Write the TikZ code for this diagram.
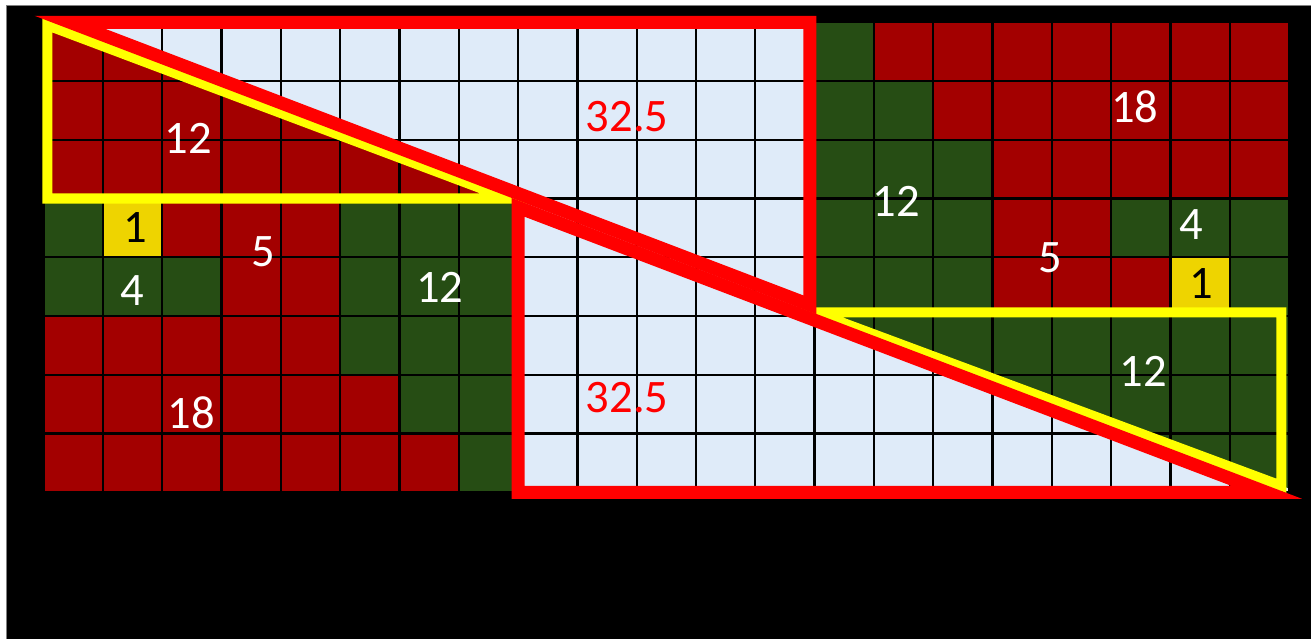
\documentclass[tikz,border=0pt]{standalone}
\usepackage{fontspec}
\setmainfont{Carlito}
\definecolor{cellred}{RGB}{163,0,0}
\definecolor{cellgreen}{RGB}{38,77,20}
\definecolor{celllight}{RGB}{223,235,249}
\definecolor{cellyellow}{RGB}{238,212,0}
\definecolor{edgered}{RGB}{255,0,0}
\definecolor{edgeyellow}{RGB}{255,255,0}
\tikzset{
	redtri/.style={draw=edgered, line width=7.4pt},
	yellowtri/.style={draw=edgeyellow, line width=5.7pt},
	gridline/.style={line width=1.3pt},
	num/.style={text=white, inner sep=0pt},
	numdark/.style={text=black, inner sep=0pt},
	numred/.style={text=edgered, inner sep=0pt}
}
\begin{document}
\begin{tikzpicture}[x=1.186cm, y=1.175cm, font=\fontsize{26.5}{30}\selectfont, line join=miter]
	\useasboundingbox (-0.737,-2.498) rectangle (21.371,8.379);
	\fill (-0.636,-2.498) rectangle (21.371,8.294);
	\draw[gray, line width=0.4pt] (-0.636,-2.498) -- (-0.636,8.294) -- (21.371,8.294);
	\fill[celllight] (0,0) rectangle (21,8);
	\foreach \rw/\ca/\cb in {4/2/4, 3/3/4, 2/0/4, 1/0/5, 0/0/6, 7/14/20, 6/15/20, 5/16/20, 4/16/17, 3/16/18}
		\fill[cellred] (\ca,\rw) rectangle (\cb+1,\rw+1);
	\foreach \rw/\ca/\cb in {4/0/0, 4/5/7, 3/0/2, 3/5/7, 2/5/7, 1/6/7, 0/7/7, 7/13/13, 6/13/14, 5/13/15, 4/13/15, 4/18/20, 3/13/15, 3/20/20}
		\fill[cellgreen] (\ca,\rw) rectangle (\cb+1,\rw+1);
	\foreach \ca/\rw in {1/4, 19/3}
		\fill[cellyellow] (\ca,\rw) rectangle (\ca+1,\rw+1);
	\fill[cellred] (0,7.95) -- (0,5) -- (7.83,5) -- cycle;
	\fill[cellgreen] (13.01,3.06) -- (21,3.06) -- (21,0.065) -- cycle;
	\foreach \i in {0,...,21}
		\draw[gridline] (\i,0) -- (\i,8);
	\foreach \j in {0,...,8}
		\draw[gridline] (0,\j) -- (21,\j);
	\draw[yellowtri] (0.06,7.95) -- (0.06,5) -- (7.83,5) -- cycle;
	\draw[yellowtri] (13.01,3.06) -- (20.87,3.06) -- (20.87,0.11) -- cycle;
	\draw[redtri] (0.44,8) -- (12.92,8) -- (12.92,3.19) -- cycle;
	\draw[redtri] (8,4.85) -- (8,0) -- (20.62,0) -- cycle;
	\node[num] (ul12) at (2.44,6.03) {12};
	\node[numred] (up32) at (9.84,6.40) {32.5};
	\node[numdark] (lone) at (1.54,4.51) {1};
	\node[num] (lfive) at (3.70,4.09) {5};
	\node[num] (lfour) at (1.49,3.44) {4};
	\node[num] (lg12) at (6.68,3.48) {12};
	\node[num] (l18) at (2.49,1.35) {18};
	\node[numred] (lo32) at (9.84,1.62) {32.5};
	\node[num] (r18) at (18.40,6.56) {18};
	\node[num] (rg12) at (14.38,4.95) {12};
	\node[num] (rfour) at (19.35,4.55) {4};
	\node[num] (rfive) at (16.98,3.99) {5};
	\node[numdark] (rone) at (19.52,3.56) {1};
	\node[num] (lr12) at (18.54,2.05) {12};
\end{tikzpicture}
\end{document}
